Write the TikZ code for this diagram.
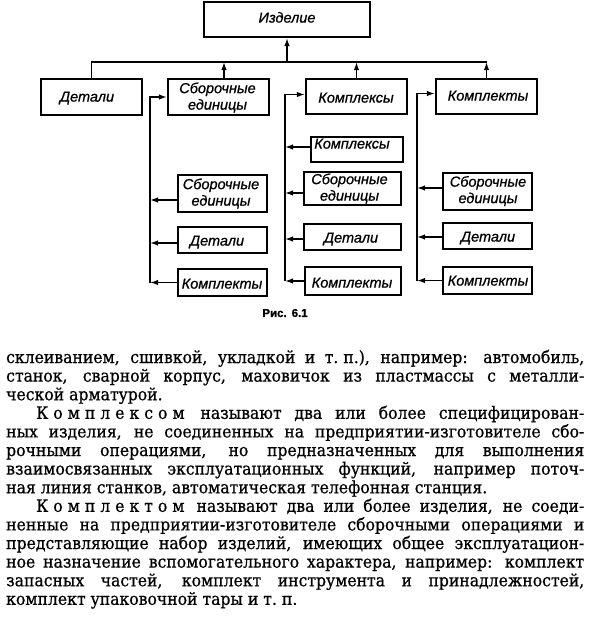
\documentclass[tikz,border=0pt]{standalone}
\usepackage{fontspec}
\setmainfont{DejaVu Serif}[FakeStretch=0.92,FakeBold=0.7]
\newfontfamily\diagfont{Liberation Sans}[FakeBold=0.8]
\usetikzlibrary{arrows.meta}
\begin{document}
\begin{tikzpicture}[x=1pt,y=-1pt,
  box/.style={draw, line width=2.1pt, inner sep=0pt},
  lbl/.style={font=\diagfont\itshape\fontsize{14.5}{16.5}\selectfont, align=center, inner sep=0pt},
  conn/.style={line width=1.5pt},
  arr/.style={conn, -{Latex[length=8pt,width=5.5pt]}},
  para/.style={font=\fontsize{17}{18}\selectfont, inner sep=0pt, anchor=base west},
  capt/.style={font=\diagfont\bfseries\fontsize{11.5}{13}\selectfont, inner sep=0pt}]
\useasboundingbox (0,0) rectangle (590,618);
\fill[white] (0,0) rectangle (590,618);

% ---- boxes ----
\node[box, minimum width=166pt, minimum height=35pt] (izd) at (287,19.5) {};
\node[box, minimum width=101pt, minimum height=36pt] (det1) at (91.5,97) {};
\node[box, minimum width=101pt, minimum height=36pt] (sb1) at (218.5,97) {};
\node[box, minimum width=101pt, minimum height=35pt] (kx1) at (356.5,96.5) {};
\node[box, minimum width=101pt, minimum height=35pt] (kt1) at (486.5,96.5) {};

\node[box, minimum width=89pt, minimum height=37pt] (sb1a) at (222.5,193.5) {};
\node[box, minimum width=89pt, minimum height=26pt] (det1a) at (222.5,240) {};
\node[box, minimum width=89pt, minimum height=27pt] (kt1a) at (222.5,282.5) {};

\node[box, minimum width=92pt, minimum height=25pt] (kx2) at (357,149.5) {};
\node[box, minimum width=97pt, minimum height=33pt] (sb2) at (352.5,188.5) {};
\node[box, minimum width=97pt, minimum height=26pt] (det2) at (352.5,237) {};
\node[box, minimum width=96pt, minimum height=28pt] (kt2) at (353,281) {};

\node[box, minimum width=89pt, minimum height=37pt] (sb3) at (487.5,191.5) {};
\node[box, minimum width=89pt, minimum height=26pt] (det3) at (487.5,236) {};
\node[box, minimum width=89pt, minimum height=27pt] (kt3) at (487.5,280.5) {};

% ---- labels ----
\node[lbl, anchor=mid] (izdt) at (287,20) {Изделие};
\node[lbl, anchor=mid] (det1t) at (87,99) {Детали};
\node[lbl] (sb1t) at (217.5,97.5) {Сборочные\\единицы};
\node[lbl, anchor=mid] (kx1t) at (356,100) {Комплексы};
\node[lbl, anchor=mid] (kt1t) at (488,98) {Комплекты};

\node[lbl] (sb1at) at (221,193.5) {Сборочные\\единицы};
\node[lbl, anchor=mid] (det1at) at (217,243) {Детали};
\node[lbl, anchor=mid] (kt1at) at (222,286) {Комплекты};

\node[lbl, anchor=mid] (kx2t) at (352,146) {Комплексы};
\node[lbl] (sb2t) at (349.5,188.5) {Сборочные\\единицы};
\node[lbl, anchor=mid] (det2t) at (351,240) {Детали};
\node[lbl, anchor=mid] (kt2t) at (352,285) {Комплекты};

\node[lbl] (sb3t) at (488,191) {Сборочные\\единицы};
\node[lbl, anchor=mid] (det3t) at (488,239) {Детали};
\node[lbl, anchor=mid] (kt3t) at (488,283) {Комплекты};

% ---- top-level connectors ----
\coordinate (bus) at (0,62);
\draw[conn] (det1.north) |- (kt1.north |- bus);
\draw[arr] (izd.south |- bus) -- (izd.south);
\draw[arr] ([xshift=5.5pt]sb1.north) -- ([xshift=5.5pt]sb1.north |- bus);
\draw[arr] (kx1.north) -- (kx1.north |- bus);
\draw[arr] (kt1.north) -- (kt1.north |- bus);

% ---- column 1 ----
\coordinate (x1) at (150,0);
\coordinate (v1) at (kt1a.west -| x1);
\draw[arr] (v1) |- (sb1.west);
\draw[arr] ([yshift=-6.5pt]sb1a.west) -- ([yshift=-6.5pt]sb1a.west -| x1);
\draw[arr] ([yshift=-3pt]det1a.west) -- ([yshift=-3pt]det1a.west -| x1);
\draw[arr] (kt1a.west) -- (v1);

% ---- column 2 ----
\coordinate (x2) at (285,0);
\coordinate (v2) at (kt2.west -| x2);
\draw[arr] (v2) |- ([yshift=2pt]kx1.west);
\draw[arr] ([yshift=2.5pt]kx2.west) -- ([yshift=2.5pt]kx2.west -| x2);
\draw[arr] ([yshift=-4.5pt]sb2.west) -- ([yshift=-4.5pt]sb2.west -| x2);
\draw[arr] ([yshift=-2pt]det2.west) -- ([yshift=-2pt]det2.west -| x2);
\draw[arr] (kt2.west) -- (v2);

% ---- column 3 ----
\coordinate (x3) at (417,0);
\coordinate (v3) at (kt3.west -| x3);
\draw[arr] (v3) |- ([yshift=3pt]kt1.west);
\draw[arr] ([yshift=3.5pt]sb3.west) -- ([yshift=3.5pt]sb3.west -| x3);
\draw[arr] ([yshift=-1pt]det3.west) -- ([yshift=-1pt]det3.west -| x3);
\draw[arr] (kt3.west) -- (v3);

% ---- caption ----
\node[capt] (cap) at (285,313) {Рис.\hspace{5pt}6.1};

% ---- body text ----
\node[para] (l1) at (6,363) {\makebox[578pt][s]{склеиванием, сшивкой, укладкой и т.\kern5ptп.), например: автомобиль,}};
\node[para] (l2) at (6,381.6) {\makebox[578pt][s]{станок, сварной корпус, маховичок из пластмассы с металли-}};
\node[para] (l3) at (6,400.2) {ческой арматурой.};
\node[para] (l4) at (36,418.8) {\makebox[548pt][s]{К\kern5ptо\kern5ptм\kern5ptп\kern5ptл\kern5ptе\kern5ptк\kern5ptс\kern5ptо\kern5ptм\kern3pt{} называют два или более специфицирован-}};
\node[para] (l5) at (6,437.4) {\makebox[578pt][s]{ных изделия, не соединенных на предприятии-изготовителе сбо-}};
\node[para] (l6) at (6,456) {\makebox[578pt][s]{рочными операциями, но предназначенных для выполнения}};
\node[para] (l7) at (6,474.6) {\makebox[578pt][s]{взаимосвязанных эксплуатационных функций, например поточ-}};
\node[para] (l8) at (6,493.2) {ная линия станков, автоматическая телефонная станция.};
\node[para] (l9) at (36,511.8) {\makebox[548pt][s]{К\kern5ptо\kern5ptм\kern5ptп\kern5ptл\kern5ptе\kern5ptк\kern5ptт\kern5ptо\kern5ptм\kern3pt{} называют два или более изделия, не соеди-}};
\node[para] (l10) at (6,530.4) {\makebox[578pt][s]{ненные на предприятии-изготовителе сборочными операциями и}};
\node[para] (l11) at (6,549) {\makebox[578pt][s]{представляющие набор изделий, имеющих общее эксплуатацион-}};
\node[para] (l12) at (6,567.6) {\makebox[578pt][s]{ное назначение вспомогательного характера, например: комплект}};
\node[para] (l13) at (6,586.2) {\makebox[578pt][s]{запасных частей, комплект инструмента и принадлежностей,}};
\node[para] (l14) at (6,604.8) {комплект упаковочной тары и т.\kern5ptп.};
\end{tikzpicture}
\end{document}
